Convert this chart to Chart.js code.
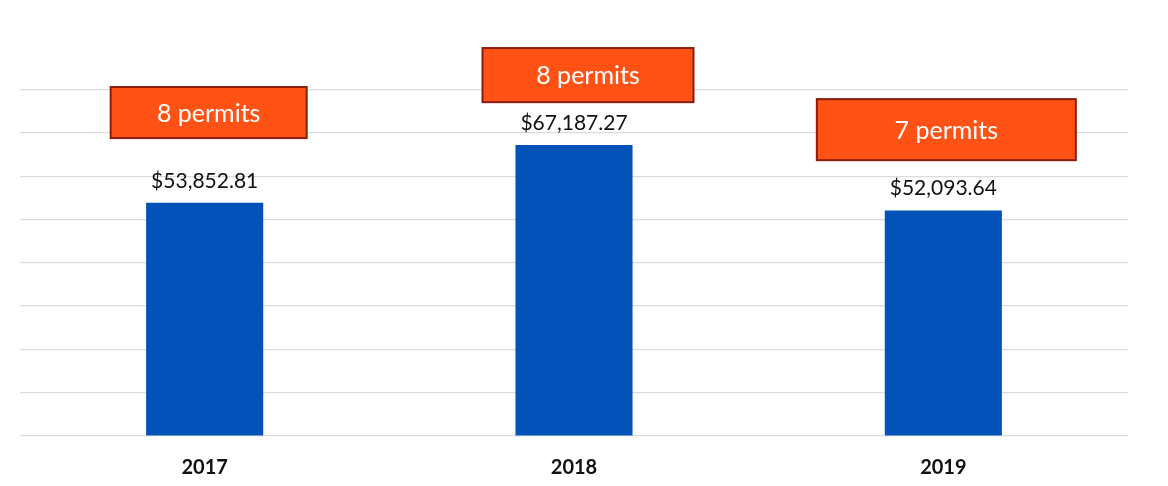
<!DOCTYPE html>
<html>
<head>
<meta charset="utf-8">
<script src="https://cdn.jsdelivr.net/npm/chart.js@4"></script>
<style>
  html, body { margin: 0; padding: 0; background: #ffffff; }
  #wrap { width: 1168px; height: 486px; }
</style>
</head>
<body>
<div id="wrap"><canvas id="chart"></canvas></div>
<script>
const years = ["2017", "2018", "2019"];
const feeTotals = [53852.81, 67187.27, 52093.64];
const permitCounts = [8, 8, 7];

// Permit call-out boxes, drawn above each bar
const permitBoxes = {
  id: "permitBoxes",
  afterDatasetsDraw(chart, args, opts) {
    const ctx = chart.ctx;
    const y = chart.scales.y;
    const meta = chart.getDatasetMeta(0);
    ctx.save();
    meta.data.forEach((bar, i) => {
      const w = opts.widths[i];
      const cx = bar.x + opts.shift[i];
      const top = y.getPixelForValue(opts.ranges[i][1]);
      const bottom = y.getPixelForValue(opts.ranges[i][0]);
      ctx.fillStyle = "#ff5214";
      ctx.fillRect(cx - w / 2, top, w, bottom - top);
      ctx.strokeStyle = "#8a1c10";
      ctx.lineWidth = 2;
      ctx.strokeRect(cx - w / 2, top, w, bottom - top);
      ctx.fillStyle = "#ffffff";
      ctx.font = "25px Lato";
      ctx.textAlign = "center";
      ctx.textBaseline = "middle";
      ctx.fillText(permitCounts[i] + " permits", cx, (top + bottom) / 2 + 1);
    });
    ctx.restore();
  }
};

// Dollar amounts above the bars
const valueLabels = {
  id: "valueLabels",
  afterDatasetsDraw(chart) {
    const ctx = chart.ctx;
    const meta = chart.getDatasetMeta(0);
    ctx.save();
    ctx.fillStyle = "#111111";
    ctx.font = "21px Lato";
    ctx.textAlign = "center";
    ctx.textBaseline = "middle";
    meta.data.forEach((bar, i) => {
      const txt = "$" + feeTotals[i].toLocaleString("en-US", { minimumFractionDigits: 2, maximumFractionDigits: 2 });
      ctx.fillText(txt, bar.x, bar.y - 22);
    });
    ctx.restore();
  }
};

new Chart(document.getElementById("chart"), {
  type: "bar",
  data: {
    labels: years,
    datasets: [{
      data: feeTotals,
      backgroundColor: "#0352b9",
      barPercentage: 0.317,
      categoryPercentage: 1
    }]
  },
  options: {
    responsive: true,
    maintainAspectRatio: false,
    animation: false,
    layout: { padding: { left: 20, right: 40, top: 3, bottom: 0 } },
    plugins: {
      legend: { display: false },
      tooltip: { enabled: false },
      permitBoxes: {
        ranges: [[68800, 80600], [77100, 89600], [63700, 77800]],
        widths: [196, 211, 259],
        shift: [4, 14, 3]
      }
    },
    scales: {
      x: {
        grid: { display: false, drawTicks: false },
        border: { display: false },
        ticks: { color: "#111111", font: { family: "Lato", size: 20, weight: "bold" }, padding: 20 },
        afterFit: (scale) => { scale.height = 50; }
      },
      y: {
        min: 0,
        max: 100000,
        border: { display: false },
        ticks: { display: false, stepSize: 10000 },
        grid: {
          drawTicks: false,
          lineWidth: 1.2,
          color: (c) => (c.tick && c.tick.value <= 80000 ? "#dcdcdc" : "rgba(0,0,0,0)")
        }
      }
    }
  },
  plugins: [permitBoxes, valueLabels]
});
</script>
</body>
</html>
